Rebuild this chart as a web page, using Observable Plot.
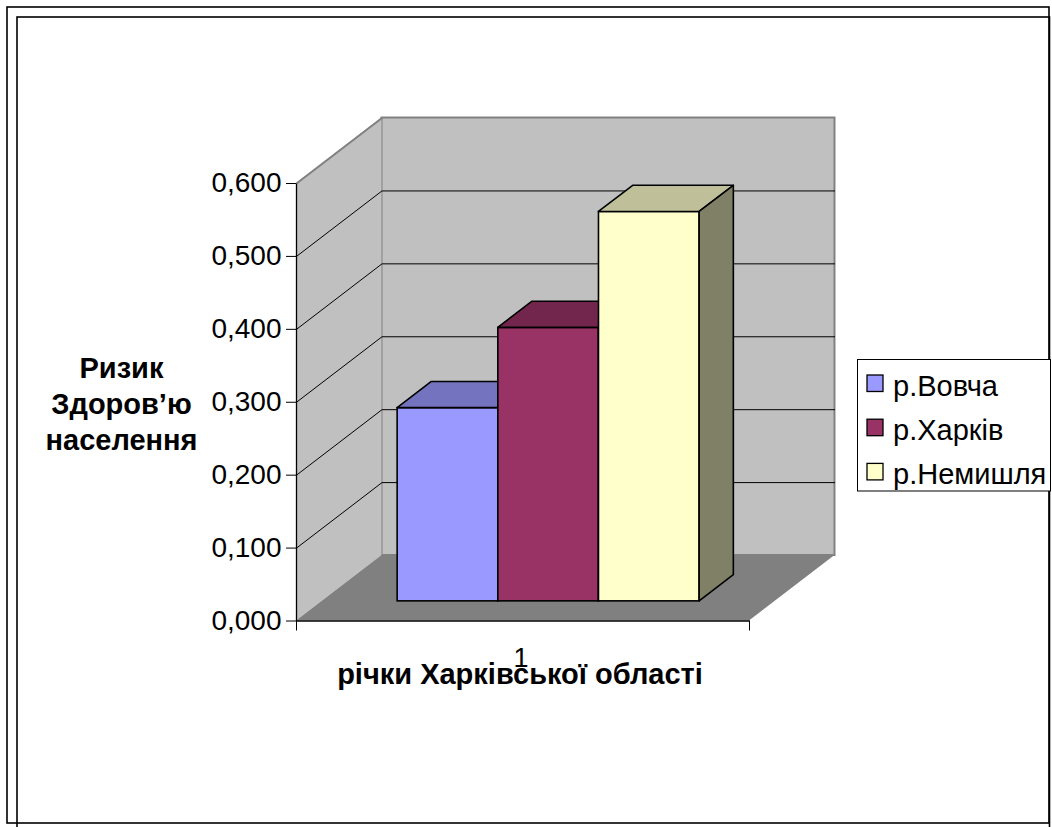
<!DOCTYPE html>
<html><head><meta charset="utf-8">
<script src="https://cdn.jsdelivr.net/npm/d3@7"></script>
<script src="https://cdn.jsdelivr.net/npm/@observablehq/plot@0.6"></script>
<style>body{margin:0;background:#fff} svg{display:block}</style>
</head><body><div id="chart"></div>
<script>
// ---- data ----
const categories = ["1"];
const series = ["р.Вовча", "р.Харків", "р.Немишля"];
const values = [0.265, 0.375, 0.534];
const frontColors = ["#9999FF", "#993366", "#FFFFCC"];
const topColors = ["#7373BF", "#73264D", "#BFBF99"];
const sideColors = ["#5C5C99", "#5C1F3D", "#808066"];
const yTicks = [0, 0.1, 0.2, 0.3, 0.4, 0.5, 0.6];
const yTitle = "Ризик\nЗдоров’ю\nнаселення";
const xTitle = "річки Харківської області";

// ---- geometry of the pseudo-3D box (in data units) ----
const W = 1052, H = 827;
const yMax = yTicks[yTicks.length - 1];
const DX = 0.1887, DY = 0.0898;     // full depth vector
const gapWidth = 1.5;               // Excel gap width 150%
const bw = 1 / (series.length + gapWidth);
const z0 = 0.3, z1 = 0.7;           // bar depth extent
const FONT = "'Liberation Sans', Arial, sans-serif";
const fmt = d => d.toFixed(3).replace(".", ",");

const bars = series.map((name, i) => ({
  i, name, value: values[i],
  xl: bw * gapWidth / 2 + i * bw,
  xr: bw * gapWidth / 2 + (i + 1) * bw
}));

const backWall = [{x1: DX, x2: 1 + DX, y1: DY, y2: yMax + DY}];
const sideWall = [{x: 0, y1: 0, y2: yMax}, {x: DX, y1: DY, y2: yMax + DY}];
const floor = [{y: 0, x1: 0, x2: 1}, {y: DY, x1: DX, x2: 1 + DX}];
const inner = yTicks.slice(1, -1);

function barMarks(b) {
  const f = frontColors[b.i], t = topColors[b.i], s = sideColors[b.i];
  const sw = 1.6;
  return [
    Plot.rect([b], {x1: d => d.xl + z0 * DX, x2: d => d.xr + z0 * DX,
      y1: z0 * DY, y2: d => d.value + z0 * DY, fill: f, stroke: "black", strokeWidth: sw}),
    Plot.areaX([
      {y: b.value + z0 * DY, x1: b.xl + z0 * DX, x2: b.xr + z0 * DX},
      {y: b.value + z1 * DY, x1: b.xl + z1 * DX, x2: b.xr + z1 * DX}
    ], {y: "y", x1: "x1", x2: "x2", fill: t, stroke: "black", strokeWidth: sw, strokeLinejoin: "round"}),
    Plot.areaY([
      {x: b.xr + z0 * DX, y1: z0 * DY, y2: b.value + z0 * DY},
      {x: b.xr + z1 * DX, y1: z1 * DY, y2: b.value + z1 * DY}
    ], {x: "x", y1: "y1", y2: "y2", fill: s, stroke: "black", strokeWidth: sw, strokeLinejoin: "round"})
  ];
}

function decorations() {
  const g = d3.create("svg:g").attr("font-family", FONT);
  // chart borders
  g.append("rect").attr("x", 7).attr("y", 7).attr("width", 1042).attr("height", 816)
    .attr("fill", "none").attr("stroke", "black").attr("stroke-width", 1.6);
  g.append("rect").attr("x", 17).attr("y", 17).attr("width", 1032.5).attr("height", 820)
    .attr("fill", "none").attr("stroke", "black").attr("stroke-width", 1.6);
  // legend
  const lg = g.append("g");
  lg.append("rect").attr("x", 857.5).attr("y", 359.5).attr("width", 193).attr("height", 131.5)
    .attr("fill", "white").attr("stroke", "black").attr("stroke-width", 1);
  series.forEach((name, i) => {
    const y0 = 375 + i * 44.2;
    lg.append("rect").attr("x", 867).attr("y", y0).attr("width", 16).attr("height", 16.5)
      .attr("fill", frontColors[i]).attr("stroke", "black").attr("stroke-width", 1.3);
    lg.append("text").attr("x", 893).attr("y", y0 + 20.5).attr("font-size", 29)
      .attr("text-anchor", "start").attr("fill", "black").text(name);
  });
  return g.node();
}

const chart = Plot.plot({
  width: W, height: H,
  marginLeft: 296, marginRight: W - 749,
  marginTop: 183, marginBottom: H - 620.5,
  x: {domain: [0, 1], axis: null},
  y: {domain: [0, yMax], axis: null},
  style: {fontFamily: FONT, fontSize: "28px", background: "white", overflow: "visible"},
  marks: [
    // walls and floor
    Plot.rect(backWall, {x1: "x1", x2: "x2", y1: "y1", y2: "y2", fill: "#C0C0C0", stroke: "#808080", strokeWidth: 2}),
    Plot.areaY(sideWall, {x: "x", y1: "y1", y2: "y2", fill: "#C0C0C0"}),
    Plot.areaX(floor, {y: "y", x1: "x1", x2: "x2", fill: "#808080"}),
    // gridlines
    Plot.link(inner, {x1: 0, y1: d => d, x2: DX, y2: d => d + DY, stroke: "black", strokeWidth: 1}),
    Plot.link(inner, {x1: DX, y1: d => d + DY, x2: 1 + DX, y2: d => d + DY, stroke: "black", strokeWidth: 1}),
    Plot.link([yMax], {x1: 0, y1: d => d, x2: DX, y2: d => d + DY, stroke: "#808080", strokeWidth: 2}),
    // front axis lines
    Plot.link([0], {x1: 0, y1: 0, x2: 0, y2: yMax, stroke: "black", strokeWidth: 1.3}),
    Plot.link([0], {x1: 0, y1: 0, x2: 1, y2: 0, stroke: "black", strokeWidth: 1.3}),
    // bars, left to right
    ...bars.flatMap(barMarks),
    // axes
    Plot.axisY({ticks: yTicks, tickFormat: fmt, tickSize: 10, tickPadding: 5, fontSize: 28, label: null, stroke: "black"}),
    Plot.axisX({ticks: [0, 1], tickSize: 10, tickFormat: () => "", label: null}),
    Plot.axisX({ticks: [0.5], tickSize: 0, tickPadding: 27, tickFormat: () => categories[0], fontSize: 27, label: null, dx: -2}),
    // axis titles
    Plot.text([yTitle], {frameAnchor: "left", dx: -175, text: d => d, textAnchor: "middle",
      lineAnchor: "middle", lineHeight: 1.25, fontSize: 29, fontWeight: "bold", fill: "black"}),
    Plot.text([xTitle], {frameAnchor: "bottom", dx: -3, dy: 62.5, text: d => d, textAnchor: "middle",
      lineAnchor: "bottom", fontSize: 29, fontWeight: "bold", fill: "black"}),
    decorations
  ]
});
document.getElementById("chart").append(chart);
</script>
</body></html>
